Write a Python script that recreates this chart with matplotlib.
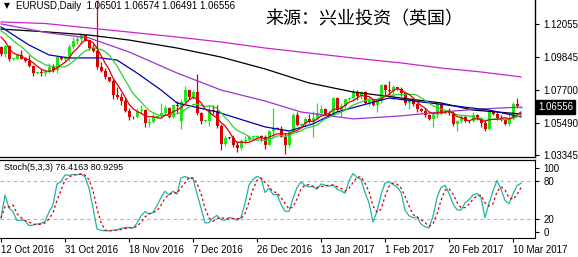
import numpy as np
import pandas as pd
import matplotlib
matplotlib.use("Agg")
import matplotlib.pyplot as plt
import matplotlib.transforms as mtransforms

plt.rcParams["font.family"] = ["Liberation Sans", "DejaVu Sans"]

# daily bars (broker feed has short Sunday bars), 12 Oct 2016 .. 13 Mar 2017
opens = [1.1055, 1.1005, 1.1058, 1.0972, 1.0975, 1.0999, 1.0980, 1.0960, 1.0929, 1.0882,
         1.0884, 1.0880, 1.0890, 1.0923, 1.0897, 1.0985, 1.0970, 1.0980, 1.1056, 1.1095,
         1.1103, 1.1130, 1.1098, 1.1044, 1.1027, 1.0917, 1.0896, 1.0852, 1.0830, 1.0735,
         1.0721, 1.0691, 1.0630, 1.0588, 1.0585, 1.0629, 1.0632, 1.0548, 1.0552, 1.0590,
         1.0595, 1.0615, 1.0645, 1.0587, 1.0665, 1.0560, 1.0690, 1.0765, 1.0720, 1.0755,
         1.0612, 1.0560, 1.0562, 1.0632, 1.0625, 1.0530, 1.0410, 1.0450, 1.0448, 1.0400,
         1.0385, 1.0425, 1.0436, 1.0455, 1.0456, 1.0456, 1.0454, 1.0403, 1.0495, 1.0517,
         1.0510, 1.0457, 1.0403, 1.0487, 1.0604, 1.0532, 1.0540, 1.0574, 1.0556, 1.0583,
         1.0614, 1.0644, 1.0610, 1.0603, 1.0717, 1.0636, 1.0660, 1.0705, 1.0715, 1.0757,
         1.0726, 1.0752, 1.0683, 1.0698, 1.0665, 1.0695, 1.0797, 1.0767, 1.0762, 1.0784,
         1.0775, 1.0748, 1.0683, 1.0701, 1.0671, 1.0640, 1.0625, 1.0601, 1.0575, 1.0604,
         1.0676, 1.0615, 1.0620, 1.0617, 1.0541, 1.0560, 1.0585, 1.0561, 1.0560, 1.0602,
         1.0576, 1.0545, 1.0506, 1.0622, 1.0610, 1.0580, 1.0567, 1.0541, 1.0576, 1.0671,
         1.06501]
highs = [1.1058, 1.1069, 1.1065, 1.0978, 1.1009, 1.1032, 1.0986, 1.1000, 1.0935, 1.0890,
         1.0905, 1.0904, 1.0945, 1.0942, 1.0990, 1.0990, 1.0995, 1.1070, 1.1120, 1.1125,
         1.1145, 1.1135, 1.1100, 1.1075, 1.1362, 1.0950, 1.0915, 1.0855, 1.0840, 1.0790,
         1.0745, 1.0715, 1.0650, 1.0595, 1.0650, 1.0665, 1.0640, 1.0580, 1.0615, 1.0600,
         1.0680, 1.0665, 1.0655, 1.0670, 1.0695, 1.0705, 1.0796, 1.0770, 1.0765, 1.0875,
         1.0620, 1.0568, 1.0667, 1.0670, 1.0670, 1.0540, 1.0470, 1.0455, 1.0470, 1.0425,
         1.0440, 1.0460, 1.0470, 1.0460, 1.0465, 1.0470, 1.0470, 1.0500, 1.0650, 1.0520,
         1.0530, 1.0480, 1.0495, 1.0615, 1.0620, 1.0545, 1.0590, 1.0610, 1.0630, 1.0684,
         1.0665, 1.0645, 1.0625, 1.0720, 1.0720, 1.0680, 1.0710, 1.0720, 1.0775, 1.0770,
         1.0760, 1.0760, 1.0725, 1.0700, 1.0710, 1.0810, 1.0810, 1.0829, 1.0800, 1.0790,
         1.0785, 1.0755, 1.0715, 1.0710, 1.0680, 1.0645, 1.0650, 1.0610, 1.0615, 1.0680,
         1.0680, 1.0625, 1.0645, 1.0630, 1.0570, 1.0600, 1.0600, 1.0570, 1.0620, 1.0610,
         1.0585, 1.0560, 1.0630, 1.0630, 1.0620, 1.0600, 1.0580, 1.0615, 1.0690, 1.0712,
         1.06574]
lows = [1.0990, 1.0985, 1.0963, 1.0968, 1.0970, 1.0970, 1.0950, 1.0917, 1.0860, 1.0876,
        1.0860, 1.0859, 1.0877, 1.0885, 1.0880, 1.0965, 1.0955, 1.0960, 1.1040, 1.1072,
        1.1075, 1.1090, 1.1030, 1.1018, 1.0907, 1.0888, 1.0840, 1.0820, 1.0710, 1.0705,
        1.0665, 1.0620, 1.0570, 1.0575, 1.0578, 1.0605, 1.0520, 1.0518, 1.0545, 1.0582,
        1.0588, 1.0605, 1.0580, 1.0580, 1.0615, 1.0505, 1.0680, 1.0705, 1.0705, 1.0600,
        1.0540, 1.0552, 1.0525, 1.0605, 1.0515, 1.0367, 1.0395, 1.0440, 1.0390, 1.0352,
        1.0370, 1.0410, 1.0425, 1.0450, 1.0440, 1.0430, 1.0375, 1.0400, 1.0450, 1.0505,
        1.0455, 1.0340, 1.0390, 1.0480, 1.0525, 1.0525, 1.0520, 1.0545, 1.0453, 1.0575,
        1.0600, 1.0600, 1.0585, 1.0600, 1.0625, 1.0588, 1.0635, 1.0700, 1.0700, 1.0700,
        1.0710, 1.0675, 1.0660, 1.0660, 1.0620, 1.0680, 1.0730, 1.0740, 1.0710, 1.0770,
        1.0730, 1.0670, 1.0640, 1.0660, 1.0620, 1.0620, 1.0590, 1.0565, 1.0520, 1.0580,
        1.0605, 1.0610, 1.0600, 1.0530, 1.0495, 1.0545, 1.0555, 1.0550, 1.0555, 1.0570,
        1.0520, 1.0495, 1.0500, 1.0600, 1.0570, 1.0560, 1.0535, 1.0525, 1.0570, 1.0648,
        1.06491]
closes = [1.1005, 1.1058, 1.0972, 1.0975, 1.0999, 1.0975, 1.0960, 1.0929, 1.0882, 1.0884,
          1.0880, 1.0890, 1.0923, 1.0897, 1.0985, 1.0970, 1.0980, 1.1056, 1.1095, 1.1103,
          1.1140, 1.1098, 1.1044, 1.1027, 1.0917, 1.0896, 1.0852, 1.0830, 1.0735, 1.0721,
          1.0691, 1.0630, 1.0588, 1.0585, 1.0629, 1.0632, 1.0548, 1.0552, 1.0590, 1.0595,
          1.0615, 1.0645, 1.0587, 1.0665, 1.0662, 1.0690, 1.0765, 1.0720, 1.0755, 1.0612,
          1.0560, 1.0562, 1.0632, 1.0625, 1.0530, 1.0410, 1.0450, 1.0448, 1.0400, 1.0385,
          1.0425, 1.0436, 1.0455, 1.0456, 1.0456, 1.0454, 1.0403, 1.0495, 1.0517, 1.0510,
          1.0457, 1.0403, 1.0487, 1.0604, 1.0532, 1.0540, 1.0574, 1.0556, 1.0583, 1.0614,
          1.0644, 1.0610, 1.0603, 1.0717, 1.0636, 1.0660, 1.0705, 1.0715, 1.0757, 1.0726,
          1.0752, 1.0683, 1.0698, 1.0665, 1.0695, 1.0797, 1.0767, 1.0762, 1.0784, 1.0775,
          1.0748, 1.0683, 1.0701, 1.0671, 1.0640, 1.0625, 1.0601, 1.0575, 1.0604, 1.0676,
          1.0615, 1.0620, 1.0617, 1.0541, 1.0560, 1.0585, 1.0561, 1.0560, 1.0602, 1.0576,
          1.0545, 1.0506, 1.0622, 1.0610, 1.0580, 1.0567, 1.0541, 1.0576, 1.0671, 1.0660,
          1.06556]
# closes of the bars just left of the window (only feed the short averages)
prior_closes = [1.1240, 1.1235, 1.1210, 1.1205, 1.1205, 1.1155, 1.1200, 1.1195, 1.1140, 1.1055]

# slow moving averages: (bar index, price)
ma_blue_bars = [0, 7, 12, 17, 25, 29, 34, 40, 44, 54, 66, 72, 78, 84, 97, 105, 122, 130]
ma_blue = [1.1186, 1.1066, 1.1000, 1.0980, 1.0980, 1.0966, 1.0880, 1.0767, 1.0681, 1.0621,
           1.0522, 1.0495, 1.0542, 1.0621, 1.0714, 1.0688, 1.0634, 1.0588]
ma_purple_bars = [0, 12, 22, 32, 44, 55, 66, 75, 88, 100, 110, 120, 130]
ma_purple = [1.1206, 1.1146, 1.1113, 1.1020, 1.0880, 1.0767, 1.0694, 1.0621, 1.0575, 1.0595,
             1.0621, 1.0641, 1.0654]
ma_black_bars = [0, 12, 22, 32, 44, 55, 66, 77, 88, 100, 110, 118, 130]
ma_black = [1.1172, 1.1152, 1.1132, 1.1099, 1.1046, 1.0986, 1.0907, 1.0814, 1.0754, 1.0714,
            1.0681, 1.0634, 1.0608]
ma_magenta_bars = [0, 11, 22, 32, 44, 55, 66, 77, 88, 100, 110, 120, 130]
ma_magenta = [1.1219, 1.1209, 1.1179, 1.1152, 1.1119, 1.1086, 1.1046, 1.1013, 1.0980, 1.0947,
              1.0913, 1.0887, 1.0854]

date_labels = ["12 Oct 2016", "31 Oct 2016", "18 Nov 2016", "7 Dec 2016", "26 Dec 2016",
               "13 Jan 2017", "1 Feb 2017", "20 Feb 2017", "10 Mar 2017"]
price_ticks = [1.12055, 1.09845, 1.07700, 1.05490, 1.03345]
stoch_ticks = [100, 80, 20, 0]
last_price = 1.06556

df = pd.DataFrame({"open": opens, "high": highs, "low": lows, "close": closes})
n = len(df)
x = np.arange(n)

all_close = pd.Series(prior_closes + closes)
ma_red = all_close.rolling(5).mean().iloc[len(prior_closes):].values
ma_green = all_close.rolling(10).mean().iloc[len(prior_closes):].values

# Stoch(5,3,3)
hh = df["high"].rolling(5, min_periods=1).max()
ll = df["low"].rolling(5, min_periods=1).min()
num = (df["close"] - ll).rolling(3, min_periods=1).sum()
den = (hh - ll).rolling(3, min_periods=1).sum()
k = 100 * num / den
d = k.rolling(3, min_periods=1).mean()

W, H = 578, 257
fig = plt.figure(figsize=(W / 100, H / 100), dpi=100)
ax = fig.add_axes([0, 1 - 157 / H, 535 / W, 157 / H])
ax2 = fig.add_axes([0, 1 - 238 / H, 535 / W, 78 / H])

bull = "#1ee61e"
bear = "#dd0000"
up = df["close"] >= df["open"]
colors = np.where(up, bull, bear)
body_lo = np.minimum(df["open"], df["close"])
body_h = np.maximum(np.abs(df["close"] - df["open"]), 0.0005)

ax.vlines(x, df["low"], df["high"], colors=colors, linewidth=0.9, zorder=2)
ax.bar(x, body_h, bottom=body_lo, width=0.75, color=colors, linewidth=0, zorder=3)

ax.plot(ma_magenta_bars, ma_magenta, color="#cc22cc", lw=0.9, zorder=4)
ax.plot(ma_black_bars, ma_black, color="black", lw=0.9, zorder=4)
ax.plot(ma_purple_bars, ma_purple, color="#9933cc", lw=0.9, zorder=4)
ax.plot(ma_blue_bars, ma_blue, color="#0000b0", lw=0.9, zorder=4)
ax.plot(x, ma_green, color="#33cc33", lw=0.9, zorder=5)
ax.plot(x, ma_red, color="#dd0000", lw=0.9, zorder=5)

xlim = (-0.25, 133.5)
ax.set_xlim(*xlim)
ax.set_ylim(1.0322, 1.1365)
ax.set_xticks([])
ax.yaxis.tick_right()
ax.set_yticks(price_ticks)
ax.set_yticklabels([f"{p:.5f}" for p in price_ticks])
ax.tick_params(axis="y", length=3, width=0.8, pad=3, labelsize=7, color="black")
for s in ["left", "top"]:
    ax.spines[s].set_visible(False)
ax.spines["right"].set_linewidth(1)
ax.spines["bottom"].set_linewidth(0.9)

trans = mtransforms.blended_transform_factory(ax.transAxes, ax.transData)
ax.text(1.006, last_price, f"{last_price:.5f}", transform=trans, ha="left", va="center",
        fontsize=7, color="white", clip_on=False, zorder=10,
        bbox=dict(boxstyle="square,pad=0.18", facecolor="black", edgecolor="black"))

fig.text(4 / W, 1 - 6 / H, "▼", family="DejaVu Sans", fontsize=5.5, va="center", ha="left")
fig.text(16 / W, 1 - 6 / H, "EURUSD,Daily  1.06501 1.06574 1.06491 1.06556",
         fontsize=7, va="center", ha="left")
fig.text(265 / W, 1 - 19 / H, "来源：兴业投资（英国）", family=["Noto Sans CJK SC"],
         fontsize=13, va="center", ha="left")

# stochastic panel
ax2.axhline(80, color="#b4b4b4", lw=0.8, ls=(0, (3, 3)), zorder=1)
ax2.axhline(20, color="#b4b4b4", lw=0.8, ls=(0, (3, 3)), zorder=1)
ax2.plot(x, k, color="#20b2aa", lw=0.9, zorder=3)
ax2.plot(x, d, color="#dd0000", lw=0.9, ls=(0, (2, 2)), zorder=3)
ax2.set_xlim(*xlim)
ax2.set_ylim(-9.3, 112.8)
ax2.yaxis.tick_right()
ax2.set_yticks(stoch_ticks)
ax2.set_yticklabels([str(t) for t in stoch_ticks])
ax2.tick_params(axis="y", length=3, width=0.8, pad=3, labelsize=7)
ax2.set_xticks(np.arange(0, n, 16)[:len(date_labels)])
ax2.set_xticklabels(date_labels, ha="left")
ax2.tick_params(axis="x", length=3, width=0.8, pad=2, labelsize=7)
ax2.spines["left"].set_visible(False)
ax2.spines["top"].set_linewidth(0.9)
ax2.text(4 / 535, 0.9, "Stoch(5,3,3) 76.4163 80.9295", transform=ax2.transAxes,
         fontsize=6.5, va="center", ha="left")

fig.savefig("out.png", dpi=100)
